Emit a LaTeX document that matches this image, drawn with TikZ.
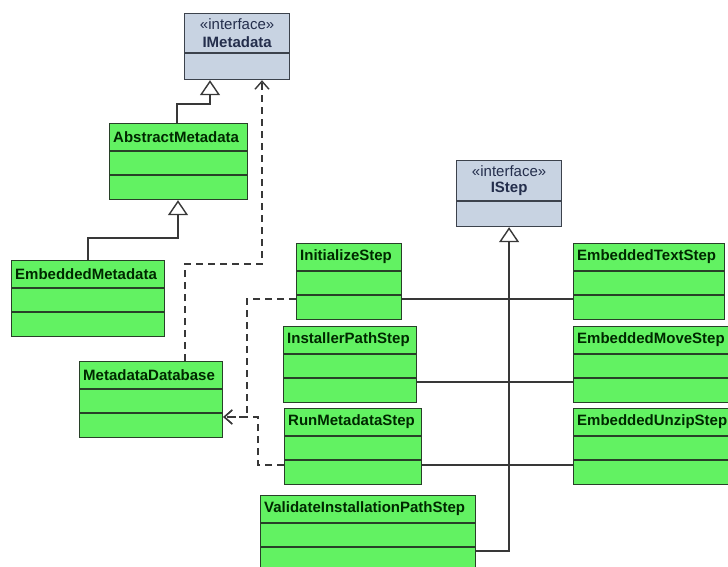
\documentclass[tikz,border=0pt]{standalone}
\usepackage{fontspec}
\setmainfont{Liberation Sans}
\usetikzlibrary{arrows.meta}

\definecolor{clsgreen}{RGB}{98,242,98}
\definecolor{clsborder}{RGB}{40,64,40}
\definecolor{clstext}{RGB}{0,40,0}
\definecolor{ifaceblue}{RGB}{200,211,226}
\definecolor{ifaceborder}{RGB}{60,66,76}
\definecolor{ifacetext}{RGB}{36,46,76}
\definecolor{linegray}{RGB}{56,56,56}

\tikzset{
  cls/.style={draw=clsborder, fill=clsgreen, line width=1.2pt, rectangle,
    anchor=north west, inner sep=0pt, minimum height=76pt},
  iface/.style={cls, draw=ifaceborder, fill=ifaceblue, minimum height=66pt},
  divider/.style={draw=clsborder, line width=1.2pt},
  clsname/.style={font=\bfseries\fontsize{15}{17}\selectfont, text=clstext,
    anchor=west, inner sep=0pt},
  ifacename/.style={font=\fontsize{15}{17}\selectfont, text=ifacetext, inner sep=0pt},
  inherit/.style={draw=linegray, line width=1.4pt,
    -{Triangle[length=15pt, width=20pt, fill=white]}},
  assoc/.style={draw=linegray, line width=1.4pt},
  depend/.style={draw=linegray, line width=1.4pt, dash pattern=on 7pt off 5pt,
    -{Straight Barb[length=8pt, width=14pt]}}
}

\begin{document}
\begin{tikzpicture}[x=1pt, y=-1pt]
\useasboundingbox (0,0) rectangle (728,567);
\clip (0,0) rectangle (728,567);

% 接口
\node[iface, minimum width=105pt] (IM) at (184,13) {};
\draw[divider, draw=ifaceborder] ([yshift=-40pt]IM.north west) -- ([yshift=-40pt]IM.north east);
\node[ifacename] (IMs) at ([yshift=-11pt]IM.north) {«interface»};
\node[ifacename, font=\bfseries\fontsize{15}{17}\selectfont] (IMn) at ([yshift=-29pt]IM.north) {IMetadata};

\node[iface, minimum width=105pt] (IS) at (456,160) {};
\draw[divider, draw=ifaceborder] ([yshift=-41pt]IS.north west) -- ([yshift=-41pt]IS.north east);
\node[ifacename] (ISs) at ([yshift=-11pt]IS.north) {«interface»};
\node[ifacename, font=\bfseries\fontsize{15}{17}\selectfont] (ISn) at ([yshift=-29pt]IS.north) {IStep};

% 类
\foreach \n/\x/\y/\w/\t in {
  AM/109/123/138/AbstractMetadata,
  EMd/11/260/153/EmbeddedMetadata,
  MD/79/361/143/MetadataDatabase,
  Init/296/243/105/InitializeStep,
  Inst/283/326/133/InstallerPathStep,
  Run/284/408/137/RunMetadataStep,
  Val/260/495/215/ValidateInstallationPathStep,
  ET/573/243/151/EmbeddedTextStep,
  EMv/573/326/170/EmbeddedMoveStep,
  EU/573/408/170/EmbeddedUnzipStep} {
  \node[cls, minimum width=\w pt] (\n) at (\x,\y) {};
  \draw[divider] ([yshift=-28pt]\n.north west) -- ([yshift=-28pt]\n.north east);
  \draw[divider] ([yshift=-52pt]\n.north west) -- ([yshift=-52pt]\n.north east);
  \node[clsname] (\n-t) at ([xshift=4pt, yshift=-14pt]\n.north west) {\t};
}

% 继承
\draw[inherit] ([xshift=68pt]AM.north west) -- ++(0,-19) -| ([xshift=26pt]IM.south west);
\draw[inherit] ([xshift=77pt]EMd.north west) -- ++(0,-22) -| ([xshift=69pt]AM.south west);
\draw[inherit] ([yshift=-56pt]Val.north east) -| (IS.south);

% 关联
\draw[assoc] ([yshift=-56pt]Init.north east) -- ([yshift=-56pt]ET.north west);
\draw[assoc] ([yshift=-56pt]Inst.north east) -- ([yshift=-56pt]EMv.north west);
\draw[assoc] ([yshift=-57pt]Run.north east) -- ([yshift=-57pt]EU.north west);

% 依赖
\coordinate (mdR) at ([yshift=-56pt]MD.north east);
\draw[depend] ([xshift=106pt]MD.north west) -- ++(0,-97) -| ([xshift=78pt]IM.south west);
\draw[depend] ([yshift=-56pt]Init.north west) -- ++(-49,0) |- (mdR);
\draw[depend] ([yshift=-57pt]Run.north west) -- ++(-26,0) |- (mdR);

\end{tikzpicture}
\end{document}
